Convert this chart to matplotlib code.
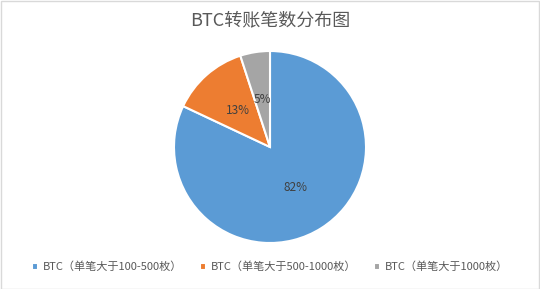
import matplotlib.pyplot as plt
from matplotlib.patches import Rectangle

plt.rcParams['font.family'] = ['Noto Sans CJK SC', 'DejaVu Sans']

labels = ['BTC（单笔大于100-500枚）', 'BTC（单笔大于500-1000枚）', 'BTC（单笔大于1000枚）']
shares = [82, 13, 5]
colors = ['#5B9BD5', '#ED7D31', '#A5A5A5']

W, H = 540, 289
fig = plt.figure(figsize=(W / 100, H / 100), dpi=100)
fig.patches.append(Rectangle((0.5 / W, 0.5 / H), 1 - 1.5 / W, 1 - 1.5 / H,
                             transform=fig.transFigure, fill=False,
                             edgecolor='#D9D9D9', linewidth=1))

# pie centre (270,147) px, radius 96 px
cx, cy, r = 270, 147, 96
side = r * 2.2
ax = fig.add_axes([(cx - side / 2) / W, 1 - (cy + side / 2) / H, side / W, side / H])
wedges, texts, autotexts = ax.pie(shares, colors=colors, startangle=90, counterclock=False,
                                  autopct='%d%%', pctdistance=0.5,
                                  wedgeprops=dict(edgecolor='white', linewidth=1.5),
                                  textprops=dict(fontsize=8.5, color='#404040'))
ax.set_xlim(-1.1, 1.1)
ax.set_ylim(-1.1, 1.1)
ax.set_aspect('equal')

fig.text(0.5, 1 - 20 / H, 'BTC转账笔数分布图', ha='center', va='center',
         fontsize=13, color='#595959', fontweight='light')

fig.legend(wedges, labels, loc='center', bbox_to_anchor=(0.5, 1 - 267 / H), ncol=3,
           frameon=False, fontsize=8, handlelength=0.55, handleheight=0.55,
           handletextpad=0.4, columnspacing=1.6, labelcolor='#595959')

fig.savefig('out.png', dpi=100)
